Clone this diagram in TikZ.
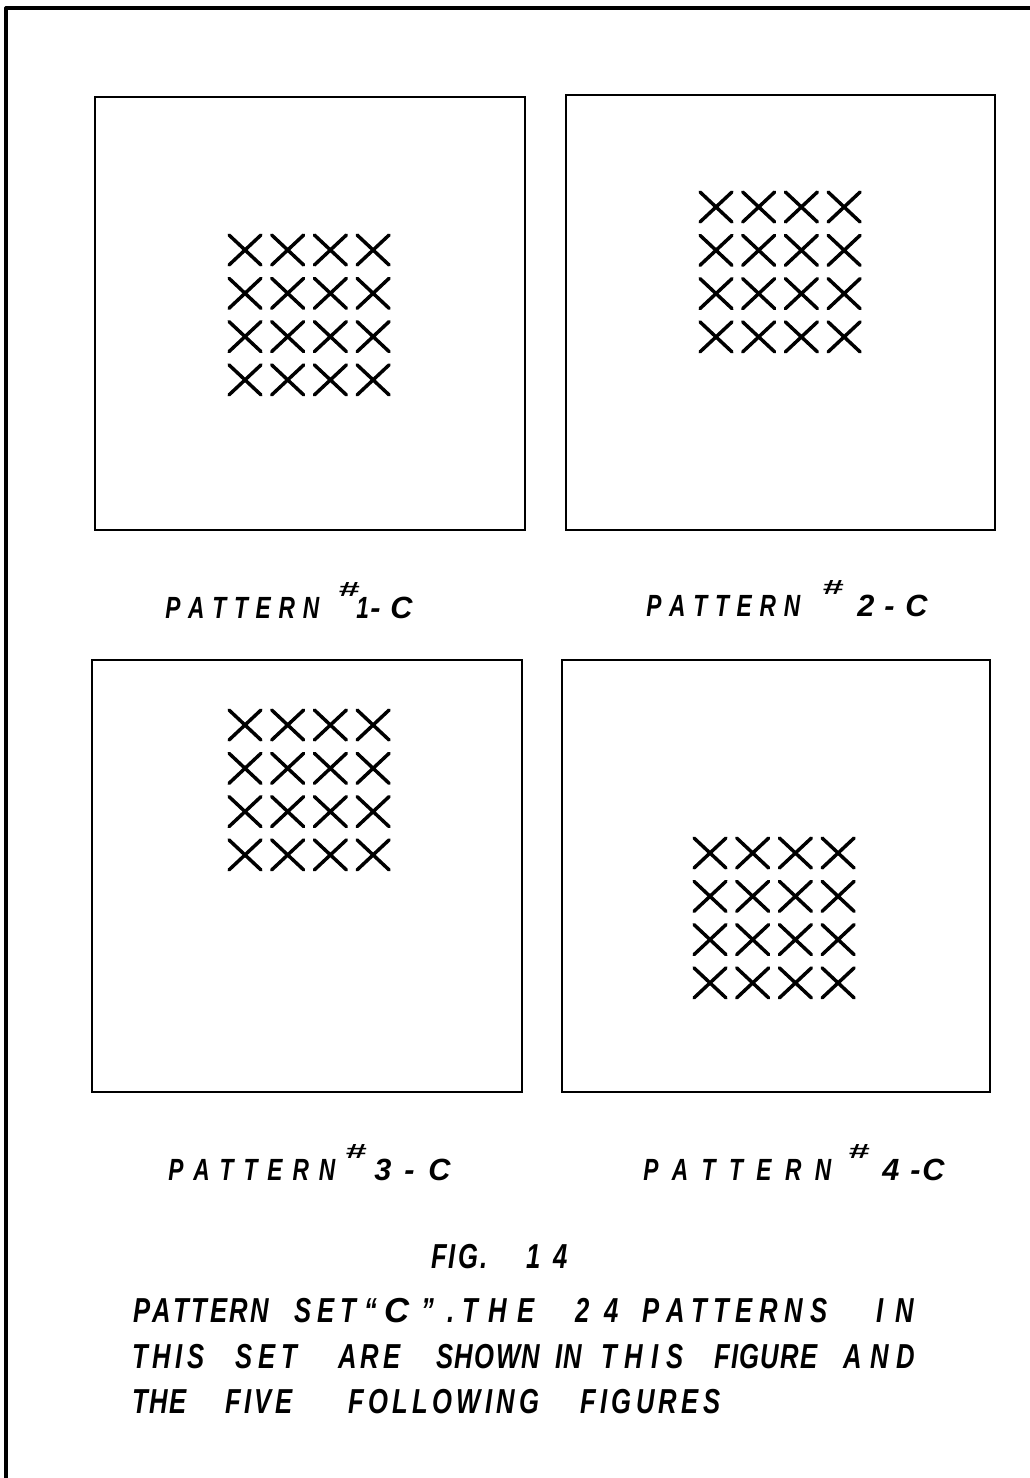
\documentclass[tikz,border=0pt]{standalone}
\usepackage{fontspec}
\usepackage{graphicx}
\newfontfamily\capfont[FakeStretch=0.74]{Liberation Sans}
\newfontfamily\plainfont{Liberation Sans}
\newlength\pxunit
\setlength\pxunit{0.75pt}
\newcommand\capstyle{\capfont\bfseries\itshape\fontsize{26pt}{26pt}\selectfont}
\newcommand\capplain{\plainfont\bfseries\itshape\fontsize{26pt}{26pt}\selectfont}
\newcommand\lblstyle{\capfont\bfseries\itshape\fontsize{23pt}{23pt}\selectfont}
\newcommand\lblplain{\plainfont\bfseries\itshape\fontsize{23pt}{23pt}\selectfont}
% spread the letters of a word evenly over a given width
\def\spreadfirst#1{#1\spreadrest}
\def\spreadrest#1{\ifx#1\relax\else\hfill#1\expandafter\spreadrest\fi}
% \spreadword{name}{left x}{baseline y}{width px}{style}{word}
\newcommand\spreadword[6]{%
  \node[lettering] (#1) at (#2,#3) {#5\hbox to #4\pxunit{\spreadfirst#6\relax}};}
\newcommand\hashmark{\resizebox{21\pxunit}{14\pxunit}{\lblplain\#}}
\tikzset{
  frameline/.style={line width=2.4pt, line cap=round, line join=round},
  panelline/.style={line width=2.2pt, line join=miter},
  xstroke/.style={line width=2.6pt, line cap=round},
  lettering/.style={inner sep=0pt, anchor=base west},
  capword/.style={lettering, font=\capstyle},
  capround/.style={lettering, font=\capplain},
  lblword/.style={lettering, font=\lblstyle},
  lblround/.style={lettering, font=\lblplain},
  xmark/.pic={\draw[xstroke] (-16,15) -- (16,-15) (-16,-15) -- (16,15);}
}
\begin{document}
\begin{tikzpicture}[x=0.75pt,y=-0.75pt]
\useasboundingbox (0,0) rectangle (1030,1478);
% outer frame (top and left only)
\coordinate (ftr) at (1030,8);
\coordinate (ftl) at (6,8);
\coordinate (fbl) at (6,1478);
\draw[frameline] (ftr) -- (ftl) -- (fbl);
% panels
\draw[panelline] (95,97) rectangle (525,530);
\draw[panelline] (566,95) rectangle (995,530);
\draw[panelline] (92,660) rectangle (522,1092);
\draw[panelline] (562,660) rectangle (990,1092);
% X grids
\foreach \cx/\cy in {245/250, 716/207, 245/725, 710/853}{
  \foreach \i in {0,1,2,3}{
    \foreach \j in {0,1,2,3}{
      \pic at (\cx+\i*42.7, \cy+\j*43.3) {xmark};
    }
  }
}
% labels under the panels
\spreadword{l1a}{165}{618}{154}{\lblstyle}{PATTERN}
\node[lettering] (l1h) at (338,596) {\hashmark};
\node[lblword] (l1b) at (356,618) {1};
\node[lblround] (l1c) at (370,618) {-};
\node[lblround] (l1d) at (390,618) {C};
\spreadword{l2a}{646}{616}{154}{\lblstyle}{PATTERN}
\node[lettering] (l2h) at (822,594) {\hashmark};
\node[lblround] (l2b) at (857,616) {2};
\node[lblround] (l2c) at (884,616) {-};
\node[lblround] (l2d) at (905,616) {C};
\spreadword{l3a}{168}{1180}{167}{\lblstyle}{PATTERN}
\node[lettering] (l3h) at (345,1158) {\hashmark};
\node[lblround] (l3b) at (374,1180) {3};
\node[lblround] (l3c) at (404,1180) {-};
\node[lblround] (l3d) at (428,1180) {C};
\spreadword{l4a}{643}{1180}{188}{\lblstyle}{PATTERN}
\node[lettering] (l4h) at (848,1158) {\hashmark};
\node[lblround] (l4b) at (882,1180) {4};
\node[lblround] (l4c) at (910,1180) {-};
\node[lblround] (l4d) at (922,1180) {C};
% caption
\spreadword{f1}{431}{1268}{56}{\capstyle}{FIG.}
\spreadword{f2}{526}{1268}{42}{\capstyle}{14}
\spreadword{c1a}{133}{1322}{136}{\capstyle}{PATTERN}
\spreadword{c1b}{294}{1322}{62}{\capstyle}{SET}
\node[capword] (c1q) at (364,1322) {“};
\node[capround] (c1c) at (384,1322) {C};
\node[capword] (c1r) at (421,1322) {”};
\node[capword] (c1p) at (447,1322) {.};
\spreadword{c1d}{462}{1322}{72}{\capstyle}{THE}
\spreadword{c1e}{575}{1322}{44}{\capstyle}{24}
\spreadword{c1f}{642}{1322}{185}{\capstyle}{PATTERNS}
\spreadword{c1g}{876}{1322}{38}{\capstyle}{IN}
\spreadword{c2a}{132}{1368}{72}{\capstyle}{THIS}
\spreadword{c2b}{235}{1368}{62}{\capstyle}{SET}
\spreadword{c2c}{338}{1368}{62}{\capstyle}{ARE}
\spreadword{c2d}{436}{1368}{104}{\capstyle}{SHOWN}
\spreadword{c2e}{555}{1368}{27}{\capstyle}{IN}
\spreadword{c2f}{601}{1368}{82}{\capstyle}{THIS}
\spreadword{c2g}{714}{1368}{103}{\capstyle}{FIGURE}
\spreadword{c2h}{843}{1368}{72}{\capstyle}{AND}
\spreadword{c3a}{132}{1413}{54}{\capstyle}{THE}
\spreadword{c3b}{225}{1413}{67}{\capstyle}{FIVE}
\spreadword{c3c}{348}{1413}{191}{\capstyle}{FOLLOWING}
\spreadword{c3d}{580}{1413}{140}{\capstyle}{FIGURES}
\end{tikzpicture}
\end{document}
